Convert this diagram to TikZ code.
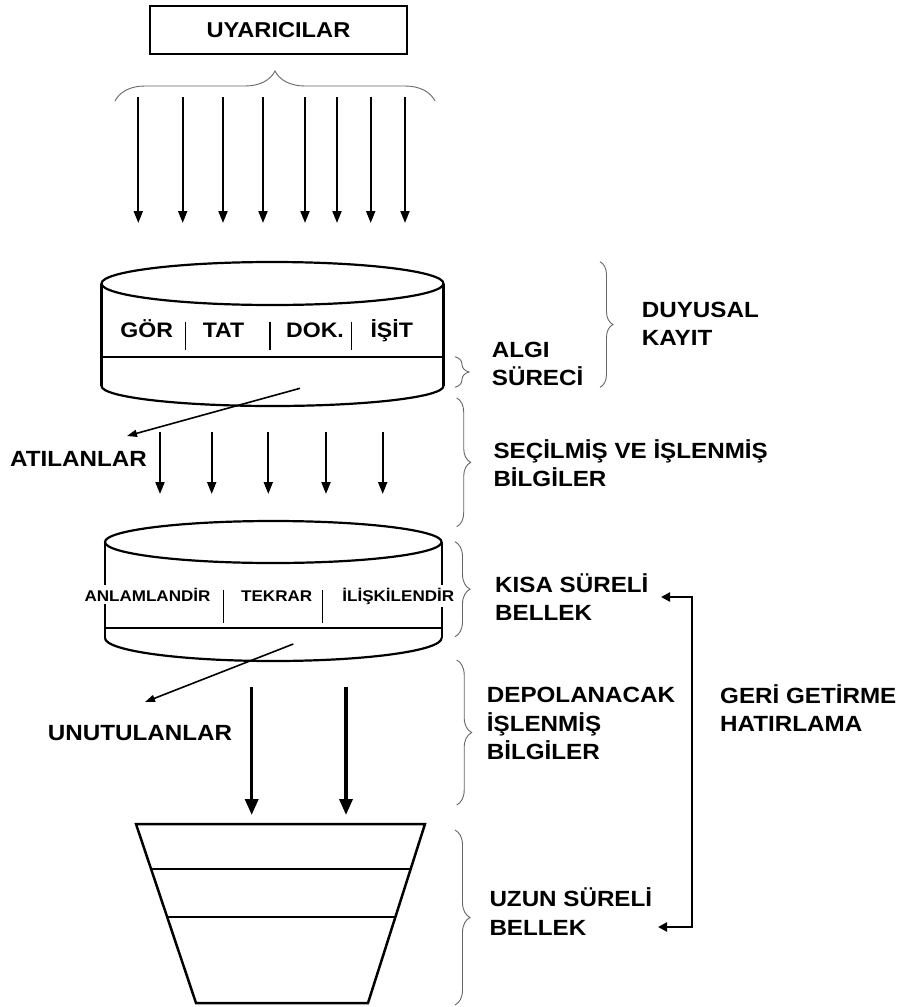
\documentclass[tikz,border=0pt]{standalone}
\usepackage{fontspec}
\newfontfamily\lab{Liberation Sans}[FakeStretch=1.1]
\usetikzlibrary{arrows.meta,decorations.pathreplacing,calc}
\begin{document}
\begin{tikzpicture}[x=1pt,y=-1pt,
  lbl/.style={font=\lab\bfseries\fontsize{22}{28.5}\selectfont, align=left, inner sep=0pt, anchor=west},
  cyltxt/.style={font=\lab\bfseries\fontsize{21}{24}\selectfont, inner sep=0pt, anchor=base},
  smalltxt/.style={font=\lab\bfseries\fontsize{15.5}{18}\selectfont, inner xsep=0pt, inner ysep=3pt, fill=white, anchor=base},
  brc/.style={decorate, decoration={brace, amplitude=14pt}, draw=black!60, line width=0.9pt},
  shape line/.style={line width=2.2pt, line join=round},
  arr/.style={line width=2pt, -{Triangle[length=12pt,width=9pt]}},
  thickarr/.style={line width=3.5pt, -{Triangle[length=16pt,width=13pt]}},
  thinarr/.style={line width=1.6pt, -{Triangle[length=10pt,width=7pt]}},
  retarr/.style={line width=2.2pt, {Triangle[length=9pt,width=9pt]}-{Triangle[length=9pt,width=9pt]}}
]
\useasboundingbox (0,0) rectangle (905,1007);

% top box
\node[draw, line width=1.3pt, minimum width=257pt, minimum height=48pt, inner sep=0pt,
      font=\lab\bfseries\fontsize{21.5}{24}\selectfont] (uyar) at (278.5,30) {UYARICILAR};

% top brace
\coordinate (tbL) at (115,101);
\coordinate (tbR) at (435,101);
\draw[brc, decoration={brace, amplitude=30pt}] (tbL) -- (tbR);

% eight arrows
\foreach \x [count=\i] in {138.3,182.7,223,263,305,337,370.7,405} {
  \coordinate (s\i) at (\x,97);
  \coordinate (e\i) at (\x,223);
  \draw[arr] (s\i) -- (e\i);
}

% cylinder 1
\draw[shape line] (272.5,283.5) ellipse [x radius=171pt, y radius=21.5pt];
\draw[shape line] (101.5,283.5) -- (101.5,386);
\draw[shape line] (443.5,283.5) -- (443.5,386);
\draw[shape line] (101.5,357.3) -- (443.5,357.3);
\draw[shape line] (101.5,386) arc[start angle=180, end angle=360, x radius=171pt, y radius=20pt];
\foreach \x in {185.7,270,351.7} \draw[line width=1.3pt] (\x,321.7) -- (\x,350);
\node[cyltxt] (gor) at (146.7,337.5) {GÖR};
\node[cyltxt] (tat) at (223.5,337.5) {TAT};
\node[cyltxt] (dok) at (315,337.5) {DOK.};
\node[cyltxt] (isit) at (391.7,337.5) {İŞİT};

% ATILANLAR
\coordinate (at1) at (300,388.3);
\node[lbl, anchor=center] (atil) at (78.5,459) {ATILANLAR};
\coordinate (at2) at (127,436);
\draw[thinarr] (at1) -- (at2);

% five arrows
\foreach \x [count=\i] in {160,211.7,268.3,326,382.7} {
  \coordinate (f\i) at (\x,431.7);
  \coordinate (g\i) at (\x,494);
  \draw[arr] (f\i) -- (g\i);
}

% cylinder 2
\draw[shape line] (273.3,542) ellipse [x radius=168.3pt, y radius=21pt];
\draw[shape line] (105,542) -- (105,638);
\draw[shape line] (441.6,542) -- (441.6,638);
\draw[shape line] (104,628.3) -- (441.6,628.3);
\draw[shape line] (105,638) arc[start angle=180, end angle=360, x radius=168.3pt, y radius=23pt];
\foreach \x in {223.3,322.3} \draw[line width=1.3pt] (\x,590) -- (\x,623);
\node[smalltxt] (anl) at (147.5,601) {ANLAMLANDİR};
\node[smalltxt] (tek) at (276.7,601) {TEKRAR};
\node[smalltxt] (ilis) at (398.3,601) {İLİŞKİLENDİR};

% UNUTULANLAR
\coordinate (un1) at (293.3,644);
\coordinate (un2) at (145,702);
\draw[thinarr] (un1) -- (un2);
\node[lbl, anchor=center] (unut) at (140,733.3) {UNUTULANLAR};

% thick arrows
\coordinate (h1) at (251.7,686.7);
\coordinate (k1) at (251.7,815);
\coordinate (h2) at (346,686.7);
\coordinate (k2) at (346,815);
\draw[thickarr] (h1) -- (k1);
\draw[thickarr] (h2) -- (k2);

% funnel
\coordinate (fTL) at (136,824);
\coordinate (fTR) at (425,824);
\coordinate (fBR) at (368,1003);
\coordinate (fBL) at (196,1003);
\draw[line width=2.5pt, line join=miter] (fTL) -- (fTR) -- (fBR) -- (fBL) -- cycle;
\draw[line width=2.5pt] ($(fTL)!0.251!(fBL)$) -- ($(fTR)!0.251!(fBR)$);
\draw[line width=2.5pt] ($(fTL)!0.52!(fBL)$) -- ($(fTR)!0.52!(fBR)$);

% right braces
\draw[brc, decoration={brace, amplitude=14pt}] (455,356.7) -- (455,387.3);
\draw[brc, decoration={brace, amplitude=13pt}] (600,261.7) -- (600,387.3);
\draw[brc, decoration={brace, amplitude=14pt}] (456.7,398) -- (456.7,526.7);
\draw[brc, decoration={brace, amplitude=15pt}] (455,541.7) -- (455,636.7);
\draw[brc, decoration={brace, amplitude=15pt}] (456.7,660) -- (456.7,805);
\draw[brc, decoration={brace, amplitude=15pt}] (455,830) -- (455,1005);

% right labels
\node[lbl] (algi) at (491.7,363.8) {ALGI\\SÜRECİ};
\node[lbl] (duy) at (641.7,324) {DUYUSAL\\KAYIT};
\node[lbl] (sec) at (493.3,463.3) {SEÇİLMİŞ VE İŞLENMİŞ\\BİLGİLER};
\node[lbl] (kisa) at (495,597.2) {KISA SÜRELİ\\BELLEK};
\node[lbl] (depo) at (486.7,723.7) {DEPOLANACAK\\İŞLENMİŞ\\BİLGİLER};
\node[lbl] (uzun) at (489.3,911.7) {UZUN SÜRELİ\\BELLEK};
\node[lbl] (geri) at (720,708) {GERİ GETİRME\\HATIRLAMA};

% retrieval connector
\coordinate (rA) at (661,597);
\coordinate (rB) at (691.7,597);
\coordinate (rC) at (691.7,927);
\coordinate (rD) at (658,927);
\draw[retarr, line join=miter] (rA) -- (rB) -- (rC) -- (rD);
\end{tikzpicture}
\end{document}
